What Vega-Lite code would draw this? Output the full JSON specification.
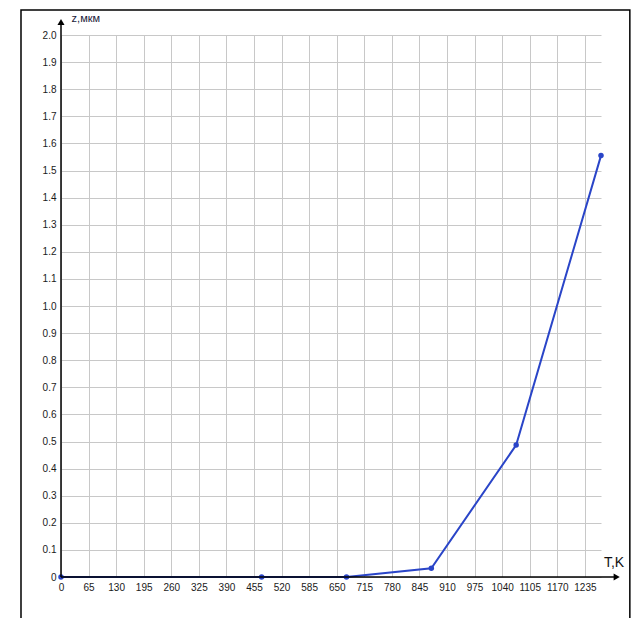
{
  "$schema": "https://vega.github.io/schema/vega-lite/v6.json",
  "width": 540,
  "height": 542,
  "autosize": {"type": "none"},
  "padding": {"left": 61, "top": 35, "right": 31, "bottom": 41},
  "background": "white",
  "config": {
    "view": {"stroke": null},
    "font": "Liberation Sans",
    "axis": {
      "labelFont": "Liberation Sans",
      "labelFontSize": 10,
      "labelColor": "#1a1a1a",
      "gridColor": "#c8c8c8",
      "gridWidth": 1,
      "gridOpacity": 1,
      "domain": false,
      "ticks": false,
      "tickSize": 0,
      "labelPadding": 5,
      "labelFlush": false,
      "labelOverlap": false,
      "title": null
    }
  },
  "data": {
    "values": [
      {"T": 0, "z": 0},
      {"T": 473, "z": 0},
      {"T": 673, "z": 0},
      {"T": 873, "z": 0.032},
      {"T": 1073, "z": 0.487},
      {"T": 1273, "z": 1.555}
    ]
  },
  "layer": [
    {
      "mark": {"type": "line", "color": "#2a45c8", "strokeWidth": 2},
      "encoding": {
        "x": {
          "field": "T",
          "type": "quantitative",
          "scale": {"domain": [0, 1273], "nice": false, "zero": true},
          "axis": {"values": [0, 65, 130, 195, 260, 325, 390, 455, 520, 585, 650, 715, 780, 845, 910, 975, 1040, 1105, 1170, 1235], "labelExpr": "format(datum.value, 'd')"}
        },
        "y": {
          "field": "z",
          "type": "quantitative",
          "scale": {"domain": [0, 2], "nice": false},
          "axis": {"values": [0, 0.1, 0.2, 0.3, 0.4, 0.5, 0.6, 0.7, 0.8, 0.9, 1.0, 1.1, 1.2, 1.3, 1.4, 1.5, 1.6, 1.7, 1.8, 1.9, 2.0], "labelExpr": "datum.value == 0 ? '0' : format(datum.value, '.1f')"}
        }
      }
    },
    {
      "mark": {"type": "point", "filled": true, "color": "#2a45c8", "size": 30, "opacity": 1},
      "encoding": {
        "x": {"field": "T", "type": "quantitative", "axis": {"values": [0, 65, 130, 195, 260, 325, 390, 455, 520, 585, 650, 715, 780, 845, 910, 975, 1040, 1105, 1170, 1235], "labelExpr": "format(datum.value, 'd')"}},
        "y": {"field": "z", "type": "quantitative", "axis": {"values": [0, 0.1, 0.2, 0.3, 0.4, 0.5, 0.6, 0.7, 0.8, 0.9, 1.0, 1.1, 1.2, 1.3, 1.4, 1.5, 1.6, 1.7, 1.8, 1.9, 2.0], "labelExpr": "datum.value == 0 ? '0' : format(datum.value, '.1f')"}}
      }
    },
    {
      "data": {"values": [{}]},
      "mark": {"type": "rule", "color": "black", "strokeWidth": 1.5},
      "encoding": {
        "x": {"datum": 0, "type": "quantitative", "axis": {"values": [0, 65, 130, 195, 260, 325, 390, 455, 520, 585, 650, 715, 780, 845, 910, 975, 1040, 1105, 1170, 1235], "labelExpr": "format(datum.value, 'd')"}},
        "y": {"datum": 0, "type": "quantitative", "axis": {"values": [0, 0.1, 0.2, 0.3, 0.4, 0.5, 0.6, 0.7, 0.8, 0.9, 1.0, 1.1, 1.2, 1.3, 1.4, 1.5, 1.6, 1.7, 1.8, 1.9, 2.0], "labelExpr": "datum.value == 0 ? '0' : format(datum.value, '.1f')"}},
        "y2": {"datum": 2.04}
      }
    },
    {
      "data": {"values": [{}]},
      "mark": {"type": "rule", "color": "black", "strokeWidth": 1.5},
      "encoding": {
        "x": {"datum": 0, "type": "quantitative", "axis": {"values": [0, 65, 130, 195, 260, 325, 390, 455, 520, 585, 650, 715, 780, 845, 910, 975, 1040, 1105, 1170, 1235], "labelExpr": "format(datum.value, 'd')"}},
        "x2": {"datum": 1305},
        "y": {"datum": 0, "type": "quantitative", "axis": {"values": [0, 0.1, 0.2, 0.3, 0.4, 0.5, 0.6, 0.7, 0.8, 0.9, 1.0, 1.1, 1.2, 1.3, 1.4, 1.5, 1.6, 1.7, 1.8, 1.9, 2.0], "labelExpr": "datum.value == 0 ? '0' : format(datum.value, '.1f')"}}
      }
    },
    {
      "data": {"values": [{}]},
      "mark": {"type": "point", "shape": "triangle-up", "filled": true, "color": "black", "size": 50, "opacity": 1},
      "encoding": {
        "x": {"datum": 0, "type": "quantitative", "axis": {"values": [0, 65, 130, 195, 260, 325, 390, 455, 520, 585, 650, 715, 780, 845, 910, 975, 1040, 1105, 1170, 1235], "labelExpr": "format(datum.value, 'd')"}},
        "y": {"datum": 2.048, "type": "quantitative", "axis": {"values": [0, 0.1, 0.2, 0.3, 0.4, 0.5, 0.6, 0.7, 0.8, 0.9, 1.0, 1.1, 1.2, 1.3, 1.4, 1.5, 1.6, 1.7, 1.8, 1.9, 2.0], "labelExpr": "datum.value == 0 ? '0' : format(datum.value, '.1f')"}}
      }
    },
    {
      "data": {"values": [{}]},
      "mark": {"type": "point", "shape": "triangle-right", "filled": true, "color": "black", "size": 50, "opacity": 1},
      "encoding": {
        "x": {"datum": 1310, "type": "quantitative", "axis": {"values": [0, 65, 130, 195, 260, 325, 390, 455, 520, 585, 650, 715, 780, 845, 910, 975, 1040, 1105, 1170, 1235], "labelExpr": "format(datum.value, 'd')"}},
        "y": {"datum": 0, "type": "quantitative", "axis": {"values": [0, 0.1, 0.2, 0.3, 0.4, 0.5, 0.6, 0.7, 0.8, 0.9, 1.0, 1.1, 1.2, 1.3, 1.4, 1.5, 1.6, 1.7, 1.8, 1.9, 2.0], "labelExpr": "datum.value == 0 ? '0' : format(datum.value, '.1f')"}}
      }
    },
    {
      "data": {"values": [{}]},
      "mark": {"type": "text", "text": "z,мкм", "align": "left", "baseline": "middle", "fontSize": 11, "fontWeight": "normal", "font": "Liberation Sans", "fill": "#1a1a3a"},
      "encoding": {
        "x": {"datum": 25, "type": "quantitative", "axis": {"values": [0, 65, 130, 195, 260, 325, 390, 455, 520, 585, 650, 715, 780, 845, 910, 975, 1040, 1105, 1170, 1235], "labelExpr": "format(datum.value, 'd')"}},
        "y": {"datum": 2.06, "type": "quantitative", "axis": {"values": [0, 0.1, 0.2, 0.3, 0.4, 0.5, 0.6, 0.7, 0.8, 0.9, 1.0, 1.1, 1.2, 1.3, 1.4, 1.5, 1.6, 1.7, 1.8, 1.9, 2.0], "labelExpr": "datum.value == 0 ? '0' : format(datum.value, '.1f')"}}
      }
    },
    {
      "data": {"values": [{}]},
      "mark": {"type": "text", "text": "T,K", "align": "left", "baseline": "middle", "fontSize": 14, "fontWeight": "normal", "font": "Liberation Sans", "fill": "#111111"},
      "encoding": {
        "x": {"datum": 1280, "type": "quantitative", "axis": {"values": [0, 65, 130, 195, 260, 325, 390, 455, 520, 585, 650, 715, 780, 845, 910, 975, 1040, 1105, 1170, 1235], "labelExpr": "format(datum.value, 'd')"}},
        "y": {"datum": 0.052, "type": "quantitative", "axis": {"values": [0, 0.1, 0.2, 0.3, 0.4, 0.5, 0.6, 0.7, 0.8, 0.9, 1.0, 1.1, 1.2, 1.3, 1.4, 1.5, 1.6, 1.7, 1.8, 1.9, 2.0], "labelExpr": "datum.value == 0 ? '0' : format(datum.value, '.1f')"}}
      }
    },
    {
      "data": {"values": [{}]},
      "mark": {"type": "rect", "fill": null, "stroke": "black", "strokeWidth": 1.5},
      "encoding": {
        "x": {"datum": -94.3, "type": "quantitative", "axis": {"values": [0, 65, 130, 195, 260, 325, 390, 455, 520, 585, 650, 715, 780, 845, 910, 975, 1040, 1105, 1170, 1235], "labelExpr": "format(datum.value, 'd')"}},
        "x2": {"datum": 1341},
        "y": {"datum": 2.092, "type": "quantitative", "axis": {"values": [0, 0.1, 0.2, 0.3, 0.4, 0.5, 0.6, 0.7, 0.8, 0.9, 1.0, 1.1, 1.2, 1.3, 1.4, 1.5, 1.6, 1.7, 1.8, 1.9, 2.0], "labelExpr": "datum.value == 0 ? '0' : format(datum.value, '.1f')"}},
        "y2": {"datum": -0.2}
      }
    }
  ]
}
